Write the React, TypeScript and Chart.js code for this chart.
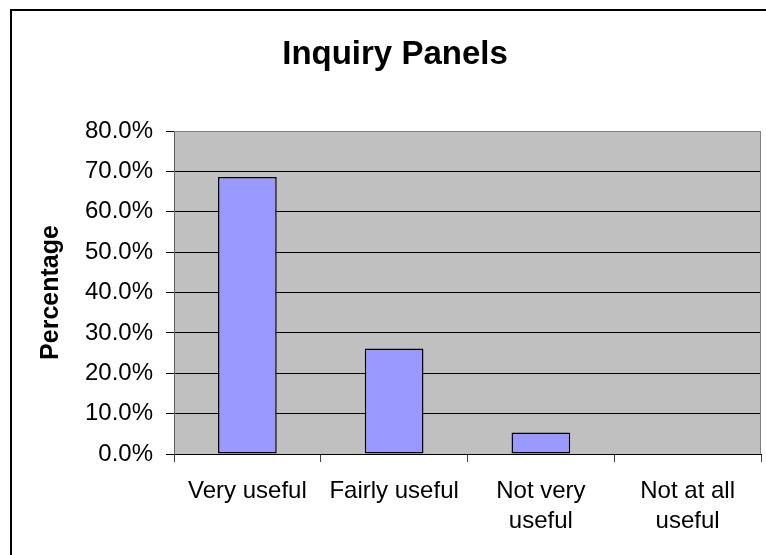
import React, { useEffect, useRef } from "react";
import { Chart, registerables } from "chart.js";

Chart.register(...registerables);

const categories: (string | string[])[] = [
  "Very useful",
  "Fairly useful",
  ["Not very", "useful"],
  ["Not at all", "useful"],
];
const percentages: number[] = [68.6, 26.1, 5.3, 0];
const yMax = 80;
const yStep = 10;
const chartTitle = "Inquiry Panels";
const yTitle = "Percentage";

const FONT = "'Liberation Sans', Arial, sans-serif";

const decorPlugin = {
  id: "decor",
  beforeDraw(chart: any) {
    const { ctx, chartArea, width, height } = chart;
    ctx.save();
    ctx.fillStyle = "#FFFFFF";
    ctx.fillRect(0, 0, width, height);
    ctx.strokeStyle = "#000000";
    ctx.lineWidth = 2;
    ctx.strokeRect(11, 10, width + 50, height + 50);
    ctx.fillStyle = "#C0C0C0";
    ctx.fillRect(
      chartArea.left,
      chartArea.top,
      chartArea.right - chartArea.left,
      chartArea.bottom - chartArea.top
    );
    ctx.restore();
  },
  afterDraw(chart: any) {
    const { ctx, chartArea } = chart;
    ctx.save();
    ctx.strokeStyle = "#808080";
    ctx.lineWidth = 1;
    ctx.beginPath();
    ctx.moveTo(chartArea.left, chartArea.top + 0.5);
    ctx.lineTo(chartArea.right - 0.5, chartArea.top + 0.5);
    ctx.lineTo(chartArea.right - 0.5, chartArea.bottom);
    ctx.stroke();
    ctx.fillStyle = "#000000";
    ctx.font = `bold 33px ${FONT}`;
    ctx.textAlign = "center";
    ctx.textBaseline = "alphabetic";
    ctx.fillText(chartTitle, 395, 64);
    ctx.restore();
  },
};

export default function App() {
  const canvasRef = useRef<HTMLCanvasElement | null>(null);

  useEffect(() => {
    if (!canvasRef.current) return;
    const chart = new Chart(canvasRef.current, {
      type: "bar",
      data: {
        labels: categories,
        datasets: [
          {
            data: percentages,
            backgroundColor: "#9999FF",
            borderColor: "#000000",
            borderWidth: 1.5,
            borderSkipped: false,
            barPercentage: 0.4,
            categoryPercentage: 1,
          },
        ],
      },
      options: {
        responsive: false,
        animation: false,
        devicePixelRatio: 1,
        layout: { padding: { top: 131, right: 5, left: 0, bottom: 0 } },
        plugins: {
          legend: { display: false },
          title: { display: false },
          tooltip: { enabled: false },
        },
        scales: {
          x: {
            offset: true,
            grid: {
              offset: true,
              drawOnChartArea: false,
              drawTicks: true,
              tickLength: 8,
              tickColor: "#404040",
            },
            border: { color: "#000000", width: 1 },
            ticks: {
              color: "#000000",
              padding: 14,
              maxRotation: 0,
              autoSkip: false,
              font: { family: FONT, size: 24, lineHeight: 1.25 },
            },
            afterFit(scale: any) {
              scale.height = 101;
            },
          },
          y: {
            min: 0,
            max: yMax,
            grid: {
              color: (c: any) => (c.tick && c.tick.value === yMax ? "#808080" : "#000000"),
              tickColor: "#000000",
              tickLength: 8,
              lineWidth: 1,
            },
            border: { color: "#606060", width: 1 },
            ticks: {
              stepSize: yStep,
              color: "#000000",
              padding: 13,
              font: { family: FONT, size: 24 },
              callback: (v: any) => Number(v).toFixed(1) + "%",
            },
            title: {
              display: true,
              text: yTitle,
              color: "#000000",
              font: { family: FONT, size: 25, weight: "bold" },
              padding: { top: 36, bottom: 0 },
            },
            afterFit(scale: any) {
              scale.width = 174;
            },
          },
        },
      },
      plugins: [decorPlugin],
    });
    return () => chart.destroy();
  }, []);

  return (
    <div style={{ position: "absolute", left: 0, top: 0, width: 766, height: 555 }}>
      <canvas ref={canvasRef} width={766} height={555} />
    </div>
  );
}
